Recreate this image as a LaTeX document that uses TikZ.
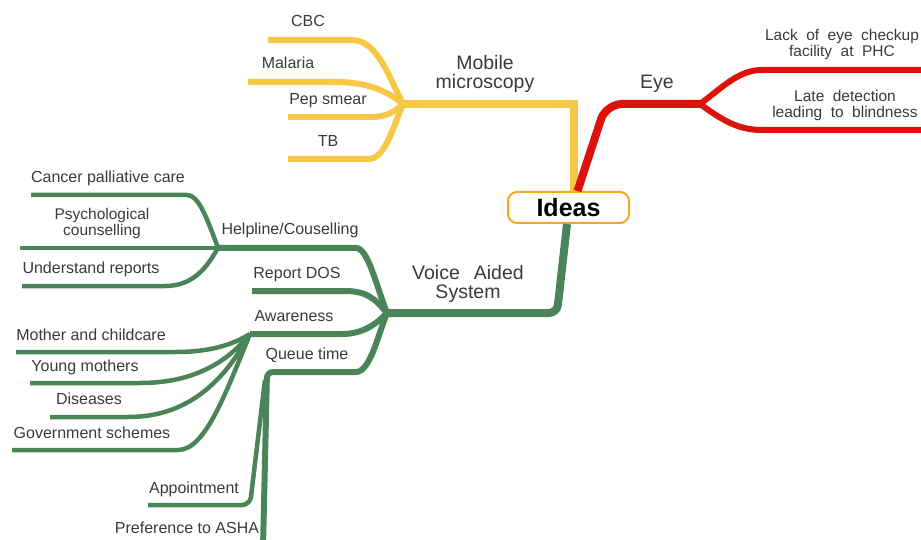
\documentclass[tikz,border=0pt]{standalone}
\usepackage{fontspec}
\setmainfont{Liberation Sans}
\definecolor{ygold}{RGB}{247,200,70}
\definecolor{rred}{RGB}{222,18,12}
\definecolor{ggreen}{RGB}{74,132,88}
\definecolor{iorange}{RGB}{247,168,30}
\definecolor{txt}{RGB}{58,58,58}
\begin{document}
\begin{tikzpicture}[x=1pt,y=-1pt,
  lbl/.style={font=\fontsize{16}{18}\selectfont, text=txt, anchor=base, inner sep=0pt},
  wlbl/.style={font=\fontsize{15.5}{15.5}\selectfont, text=txt, anchor=center, inner sep=0pt,
    align=center, execute at begin node={\spaceskip=8.5pt\relax\lineskiplimit=-50pt\relax}},
  plbl/.style={font=\fontsize{15.5}{15.5}\selectfont, text=txt, anchor=center, inner sep=0pt,
    align=center, execute at begin node={\lineskiplimit=-50pt\relax}},
  big/.style={font=\fontsize{19.5}{19}\selectfont, text=txt, anchor=center, inner sep=0pt,
    align=center, execute at begin node={\spaceskip=14pt\relax\lineskiplimit=-50pt\relax}},
  ym/.style={draw=ygold, line width=8pt, line join=miter},
  ys/.style={draw=ygold, line width=6pt, line join=round},
  rm/.style={draw=rred, line width=8pt, line join=round},
  rs/.style={draw=rred, line width=6pt, line join=round},
  gm/.style={draw=ggreen, line width=8pt, line join=round},
  gs/.style={draw=ggreen, line width=6pt, line join=round},
  gt/.style={draw=ggreen, line width=4.5pt, line join=round},
  rootbox/.style={draw=iorange, line width=2pt, rounded corners=9pt, fill=white,
    minimum width=121pt, minimum height=31pt, inner sep=0pt,
    font=\bfseries\fontsize{25}{27}\selectfont, text=black}
]
\useasboundingbox (0,0) rectangle (921,540);
\clip (0,0) rectangle (921,540);

% fork points and free ends
\coordinate (yfork) at (403,104);
\coordinate (rfork) at (700,104);
\coordinate (gfork) at (387,313);
\coordinate (hfork) at (218,248);
\coordinate (afork) at (250,334);
\coordinate (qfork) at (265,380);

\coordinate (cbcE) at (268,40);
\coordinate (malE) at (248,82);
\coordinate (pepE) at (288,117);
\coordinate (tbE) at (288,159);
\coordinate (lackE) at (930,70);
\coordinate (lateE) at (930,130);
\coordinate (canE) at (31,195);
\coordinate (psyE) at (20,248);
\coordinate (undE) at (22,286);
\coordinate (repE) at (252,291);
\coordinate (motE) at (16,352);
\coordinate (youE) at (30,383);
\coordinate (disE) at (50,417);
\coordinate (govE) at (12,450);
\coordinate (apptE) at (148,505);
\coordinate (ashaE) at (263,548);

\node[rootbox] (ideas) at (568.5,207.5) {Ideas};

% yellow branch
\draw[ym] ([xshift=5.5pt]ideas.north) |- (yfork);
\draw[ys] (cbcE) -- (352,40) .. controls (378,40) and (390,80) .. (yfork);
\draw[ys] (malE) -- (335,82) .. controls (370,82) and (388,92) .. (yfork);
\draw[ys] (pepE) -- (372,117) .. controls (388,117) and (396,110) .. (yfork);
\draw[ys] (tbE) -- (368,159) .. controls (385,159) and (392,130) .. (yfork);

% red branch
\draw[rm, rounded corners=16pt] ([xshift=9pt]ideas.north) -- (606,104) -- (rfork);
\draw[rs] (rfork) .. controls (722,88) and (738,70) .. (762,70) -- (lackE);
\draw[rs] (rfork) .. controls (722,120) and (738,130) .. (762,130) -- (lateE);

% green branch
\draw[gm, rounded corners=8pt] ([xshift=-1.5pt]ideas.south) -- (557,313) -- (gfork);
\draw[gs] (gfork) .. controls (376,285) and (368,248) .. (356,248) -- (hfork);
\draw[gs] (repE) -- (345,291) .. controls (368,291) and (376,300) .. (gfork);
\draw[gs] (afork) -- (342,334) .. controls (365,334) and (378,322) .. (gfork);
\draw[gs, rounded corners=6pt] (gfork) .. controls (378,335) and (370,372) .. (350,372) -- (267,372) -- (ashaE);
\draw[gt, rounded corners=8pt] (qfork) -- (250,505) -- (apptE);

\draw[gt] (canE) -- (187,195) .. controls (198,195) and (206,215) .. (hfork);
\draw[gt] (psyE) -- (hfork);
\draw[gt] (undE) -- (165,286) .. controls (195,286) and (208,265) .. (hfork);

\draw[gt] (motE) -- (175,352) .. controls (210,352) and (232,345) .. (afork);
\draw[gt] (youE) -- (140,383) .. controls (190,383) and (225,365) .. (afork);
\draw[gt] (disE) -- (128,417) .. controls (185,417) and (222,385) .. (afork);
\draw[gt] (govE) -- (178,450) .. controls (205,450) and (225,395) .. (afork);

% labels
\node[big] (tMob) at (485,73.5) {Mobile\\microscopy};
\node[big] (tEye) at (657,84) {Eye};
\node[big] (tVoice) at (468,283.5) {Voice Aided\\System};

\node[lbl] (tCBC) at (308,27) {CBC};
\node[lbl] (tMal) at (288,69) {Malaria};
\node[lbl] (tPep) at (328,105) {Pep smear};
\node[lbl] (tTB) at (328,147) {TB};

\node[wlbl] (tLack) at (842,44.5) {Lack of eye checkup\\facility at PHC};
\node[wlbl] (tLate) at (845,105.5) {Late detection\\leading to blindness};

\node[lbl] (tCan) at (108,183) {Cancer palliative care};
\node[plbl] (tPsy) at (102,223.5) {Psychological\\counselling};
\node[lbl] (tUnd) at (91,273) {Understand reports};
\node[lbl] (tHelp) at (290,235) {Helpline/Couselling};
\node[lbl] (tRep) at (297,278) {Report DOS};
\node[lbl] (tAw) at (294,321) {Awareness};
\node[lbl] (tMot) at (91,340) {Mother and childcare};
\node[lbl] (tYou) at (85,371) {Young mothers};
\node[lbl] (tDis) at (89,404) {Diseases};
\node[lbl] (tGov) at (92,438) {Government schemes};
\node[lbl] (tQue) at (307,359) {Queue time};
\node[lbl] (tApp) at (194,493) {Appointment};
\node[lbl] (tAsha) at (187,533) {Preference to ASHA};
\end{tikzpicture}
\end{document}
